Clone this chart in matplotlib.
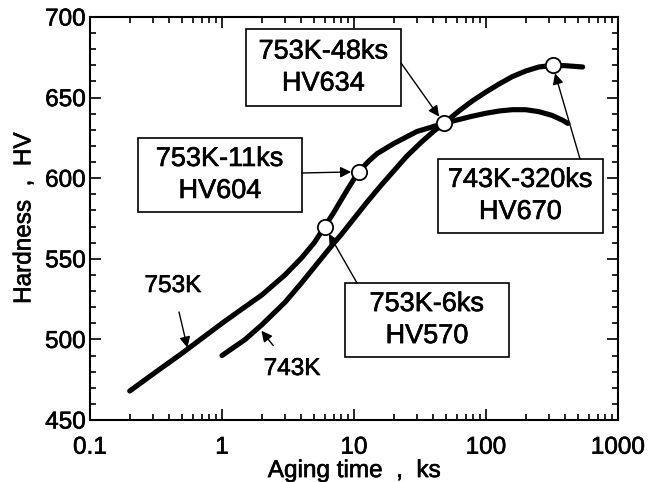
import matplotlib

matplotlib.use("Agg")
import matplotlib.pyplot as plt
import matplotlib.patheffects as pe
import numpy as np
from matplotlib.patches import Rectangle
from matplotlib.ticker import LogLocator, MultipleLocator, FixedLocator, FixedFormatter

plt.rcParams["font.family"] = ["Liberation Sans", "DejaVu Sans"]

# Hardness curves (aging time in ks, Vickers hardness)
t753 = [0.2, 0.3, 0.5, 0.7, 1.0, 1.5, 2.0, 3.0, 4.0, 5.0, 6.0, 7.0, 8.0, 9.0,
        10, 11, 12, 13, 15, 20, 30, 48, 63, 79, 100, 126, 158, 200, 251, 316,
        380, 417]
hv753 = [468, 478.5, 491.5, 500.5, 510, 520.3, 527.5, 540, 550.5, 560, 570,
         578.5, 586.5, 593.5, 599.5, 604, 607.8, 610.8, 615.3, 621.5, 629, 634,
         636.5, 638.5, 640.3, 641.7, 642.5, 642.5, 641.3, 639, 636, 634]
t743 = [1.0, 1.5, 2.0, 3.0, 4.0, 5.5, 7.0, 8.0, 10, 12.5, 16, 20, 25, 32, 40,
        48, 63, 79, 100, 126, 158, 200, 251, 320, 400, 540]
hv743 = [490, 500, 509, 523, 535, 549, 559.5, 565, 575, 585, 595.5, 604.5,
         613.5, 622, 629, 634, 642, 648, 653.5, 658.5, 663, 666.5, 669, 670,
         669.8, 669]

# marked conditions
pt_labels = ["753K-48ks\nHV634", "753K-11ks\nHV604", "753K-6ks\nHV570",
             "743K-320ks\nHV670"]
pt_time = [48, 11, 6, 320]
pt_hv = [634, 604, 570, 670]

xticks = [0.1, 1, 10, 100, 1000]
xticklabels = ["0.1", "1", "10", "100", "1000"]
yticks = [450, 500, 550, 600, 650, 700]

ink = [pe.withStroke(linewidth=0.45, foreground="black")]

fig = plt.figure(figsize=(6.53, 4.82), dpi=100)
ax = fig.add_axes([0.1378, 0.1286, 0.8086, 0.8361])
ax.set_xscale("log")
ax.set_xlim(0.1, 1000)
ax.set_ylim(450, 700)

ax.plot(t753, hv753, color="black", lw=3.7, solid_capstyle="round",
        solid_joinstyle="round", zorder=3)
ax.plot(t743, hv743, color="black", lw=3.7, solid_capstyle="round",
        solid_joinstyle="round", zorder=3)
ax.plot(pt_time, pt_hv, "o", ms=11, mfc="white", mec="black", mew=1.3, zorder=5)

# boxes (axes fraction): x0, y0, x1, y1 and arrow start
boxes = [(0.2955, 0.779, 0.589, 0.970, (0.589, 0.886)),
         (0.0909, 0.516, 0.4015, 0.700, (0.4015, 0.613)),
         (0.483, 0.156, 0.7936, 0.340, (0.5057, 0.340)),
         (0.659, 0.464, 0.9716, 0.648, (0.928, 0.648))]
for (x0, y0, x1, y1, start), lab, t, h in zip(boxes, pt_labels, pt_time, pt_hv):
    ax.add_patch(Rectangle((x0, y0), x1 - x0, y1 - y0, transform=ax.transAxes,
                           facecolor="white", edgecolor="black", lw=1.2, zorder=4))
    ax.text((x0 + x1) / 2, (y0 + y1) / 2, lab, transform=ax.transAxes,
            ha="center", va="center", fontsize=19.5, linespacing=1.3, zorder=6,
            path_effects=ink)
    ax.annotate("", xy=(t, h), xycoords="data", xytext=start,
                textcoords="axes fraction",
                arrowprops=dict(arrowstyle="-|>", color="black", lw=1.0,
                                mutation_scale=16, shrinkA=0, shrinkB=6),
                zorder=4)

# curve labels
y_a = np.interp(np.log10(0.55), np.log10(t753), hv753)
ax.annotate("753K", xy=(0.55, y_a), xytext=(0.157, 0.3325),
            textcoords="axes fraction", ha="center", va="center", fontsize=17.5,
            path_effects=ink,
            arrowprops=dict(arrowstyle="-|>", color="black", lw=1.0,
                            mutation_scale=16, shrinkA=9, shrinkB=1))
y_b = np.interp(np.log10(1.9), np.log10(t743), hv743)
ax.annotate("743K", xy=(1.9, y_b), xytext=(0.3826, 0.1266),
            textcoords="axes fraction", ha="center", va="center", fontsize=17.5,
            path_effects=ink,
            arrowprops=dict(arrowstyle="-|>", color="black", lw=1.0,
                            mutation_scale=16, shrinkA=9, shrinkB=3))

ax.xaxis.set_major_locator(FixedLocator(xticks))
ax.xaxis.set_major_formatter(FixedFormatter(xticklabels))
ax.xaxis.set_minor_locator(LogLocator(base=10, subs=np.arange(2, 10)))
ax.yaxis.set_major_locator(FixedLocator(yticks))
ax.yaxis.set_minor_locator(MultipleLocator(10))
ax.tick_params(which="both", direction="in", top=True, right=True,
               labelsize=17.5, width=1.2)
ax.tick_params(axis="x", which="major", length=8, pad=12)
ax.tick_params(axis="y", which="major", length=8, pad=3)
ax.tick_params(which="minor", length=4)
for s in ax.spines.values():
    s.set_linewidth(1.5)

ax.set_xlabel("Aging time  ,  ks", fontsize=17.5, labelpad=1, path_effects=ink)
ax.set_ylabel("Hardness  ,  HV", fontsize=17.5, labelpad=7, path_effects=ink)
for lbl in ax.get_xticklabels() + ax.get_yticklabels():
    lbl.set_path_effects(ink)

fig.savefig("out.png", dpi=100)
